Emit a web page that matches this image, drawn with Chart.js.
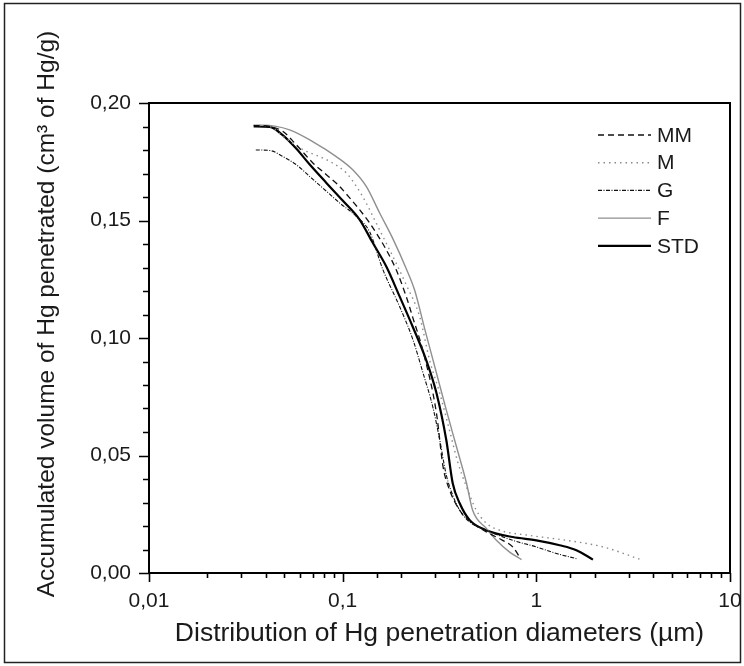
<!DOCTYPE html>
<html>
<head>
<meta charset="utf-8">
<script src="https://cdn.jsdelivr.net/npm/chart.js@4.4.0/dist/chart.umd.min.js"></script>
<style>
  html, body { margin: 0; padding: 0; background: #fff; }
</style>
</head>
<body>
<canvas id="hgChart" width="744" height="666"></canvas>
<script>
// Diameters (um) and accumulated Hg volume (cm3/g)
const mmDiam = [0.0347, 0.042, 0.0492, 0.0565, 0.070, 0.0824, 0.0946, 0.1087, 0.1225, 0.1377, 0.149, 0.168, 0.189, 0.213, 0.2296, 0.259, 0.305, 0.330, 0.357, 0.402, 0.469, 0.552, 0.670, 0.755, 0.82];
const mmVol  = [0.1905, 0.190, 0.1879, 0.183, 0.1746, 0.1695, 0.1652, 0.1596, 0.1545, 0.149, 0.1447, 0.1375, 0.129, 0.1176, 0.109, 0.0949, 0.068, 0.0452, 0.0352, 0.0267, 0.0212, 0.0175, 0.0139, 0.0111, 0.0068];

const mDiam = [0.0347, 0.042, 0.0492, 0.0624, 0.076, 0.0891, 0.1045, 0.1178, 0.1324, 0.149, 0.168, 0.189, 0.213, 0.250, 0.281, 0.317, 0.356, 0.393, 0.436, 0.490, 0.552, 0.647, 0.922, 1.43, 2.21, 3.55];
const mVol  = [0.1905, 0.190, 0.1858, 0.1801, 0.1772, 0.1744, 0.1702, 0.1645, 0.1574, 0.1489, 0.1403, 0.1318, 0.1226, 0.109, 0.0906, 0.0766, 0.0608, 0.0472, 0.0366, 0.0267, 0.0212, 0.0182, 0.016, 0.0139, 0.0111, 0.0054];

const gDiam = [0.0356, 0.042, 0.0492, 0.0577, 0.0676, 0.079, 0.0967, 0.1178, 0.1377, 0.1615, 0.197, 0.231, 0.260, 0.292, 0.317, 0.343, 0.370, 0.402, 0.453, 0.552, 0.755, 1.0, 1.27, 1.61];
const gVol  = [0.180, 0.1798, 0.1772, 0.1737, 0.1687, 0.1638, 0.1574, 0.1517, 0.1452, 0.129, 0.1133, 0.0991, 0.0851, 0.0707, 0.0567, 0.0416, 0.0331, 0.0267, 0.0217, 0.0182, 0.0139, 0.0111, 0.0083, 0.0061];

const fDiam = [0.0355, 0.0387, 0.0532, 0.070, 0.0927, 0.1127, 0.1324, 0.155, 0.181, 0.213, 0.235, 0.265, 0.305, 0.343, 0.387, 0.436, 0.469, 0.552, 0.622, 0.728, 0.838];
const fVol  = [0.1905, 0.1906, 0.1886, 0.1836, 0.1772, 0.1716, 0.1645, 0.1533, 0.1425, 0.1295, 0.1205, 0.104, 0.0851, 0.0693, 0.0537, 0.0382, 0.0267, 0.019, 0.0139, 0.0089, 0.0057];

const stdDiam = [0.0347, 0.042, 0.0492, 0.0577, 0.0676, 0.0824, 0.100, 0.1225, 0.143, 0.168, 0.197, 0.230, 0.270, 0.305, 0.343, 0.370, 0.402, 0.453, 0.552, 0.755, 1.0, 1.32, 1.61, 1.96];
const stdVol  = [0.190, 0.1898, 0.1862, 0.1805, 0.1738, 0.1660, 0.1585, 0.1503, 0.1405, 0.1304, 0.1176, 0.1048, 0.0906, 0.0766, 0.0565, 0.0382, 0.0297, 0.0225, 0.0182, 0.0153, 0.0139, 0.0118, 0.0097, 0.0057];

const seriesLabels = ["MM", "M", "G", "F", "STD"];
const xTitle = "Distribution of Hg penetration diameters (\u00b5m)";
const yTitle = "Accumulated volume of Hg penetrated (cm\u00b3 of Hg/g)";

const FONT = "'Liberation Sans', Arial, sans-serif";
const TEXT = "#1a1a1a";

function toPoints(xs, ys) {
    return xs.map((x, i) => ({ x: x, y: ys[i] }));
}

function isDecade(v) {
    const l = Math.log10(v);
    return Math.abs(l - Math.round(l)) < 1e-6;
}

// marco, marcas de los ejes, titulo vertical y leyenda
const framePlugin = {
    id: "frameTicks",
    beforeDraw(chart) {
        const ctx = chart.ctx;
        ctx.save();
        ctx.fillStyle = "#fff";
        ctx.fillRect(0, 0, chart.width, chart.height);
        ctx.strokeStyle = "#222";
        ctx.lineWidth = 1.5;
        ctx.strokeRect(4.5, 3.5, chart.width - 8, chart.height - 7);
        ctx.restore();
    },
    afterDraw(chart) {
        const { ctx, chartArea: a, scales: { x, y } } = chart;
        ctx.save();
        ctx.strokeStyle = "#000";
        ctx.lineWidth = 2;
        ctx.strokeRect(a.left, a.top, a.right - a.left, a.bottom - a.top);

        ctx.lineWidth = 1.6;
        ctx.beginPath();
        x.ticks.forEach(t => {
            const px = Math.round(x.getPixelForValue(t.value)) + 0.5;
            const len = isDecade(t.value) ? 9 : 5;
            ctx.moveTo(px, a.bottom);
            ctx.lineTo(px, a.bottom + len);
        });
        y.ticks.forEach(t => {
            const py = Math.round(y.getPixelForValue(t.value)) + 0.5;
            const major = Math.round(t.value * 100) % 5 === 0;
            const len = major ? 10 : 6;
            ctx.moveTo(a.left, py);
            ctx.lineTo(a.left - len, py);
        });
        ctx.stroke();

        // titulo del eje Y
        ctx.save();
        ctx.translate(47, 314);
        ctx.rotate(-Math.PI / 2);
        ctx.font = "24.5px " + FONT;
        ctx.fillStyle = TEXT;
        ctx.textAlign = "center";
        ctx.textBaseline = "middle";
        ctx.fillText(yTitle, 0, 0);
        ctx.restore();

        // leyenda
        ctx.font = "21px " + FONT;
        ctx.textBaseline = "middle";
        ctx.textAlign = "left";
        chart.data.datasets.forEach((ds, i) => {
            const ly = 135 + i * 27.7;
            ctx.save();
            ctx.strokeStyle = ds.borderColor;
            ctx.lineWidth = ds.borderWidth;
            ctx.setLineDash(ds.borderDash || []);
            ctx.beginPath();
            ctx.moveTo(598, ly);
            ctx.lineTo(651, ly);
            ctx.stroke();
            ctx.restore();
            ctx.fillStyle = TEXT;
            ctx.fillText(ds.label, 657, ly + 1);
        });
        ctx.restore();
    }
};

const datasets = [
    { label: seriesLabels[0], data: toPoints(mmDiam, mmVol), borderColor: "#111", borderWidth: 1.3, borderDash: [6, 4] },
    { label: seriesLabels[1], data: toPoints(mDiam, mVol), borderColor: "#8a8a8a", borderWidth: 1.4, borderDash: [1.5, 4] },
    { label: seriesLabels[2], data: toPoints(gDiam, gVol), borderColor: "#111", borderWidth: 1.1, borderDash: [4, 1.5, 1, 1.5] },
    { label: seriesLabels[3], data: toPoints(fDiam, fVol), borderColor: "#8f8f8f", borderWidth: 1.4, borderDash: [] },
    { label: seriesLabels[4], data: toPoints(stdDiam, stdVol), borderColor: "#000", borderWidth: 2.2, borderDash: [] }
];
datasets.forEach(ds => {
    ds.showLine = true;
    ds.pointRadius = 0;
    ds.fill = false;
    ds.cubicInterpolationMode = "monotone";
});

new Chart(document.getElementById("hgChart"), {
    type: "scatter",
    data: { datasets: datasets },
    options: {
        responsive: false,
        animation: false,
        devicePixelRatio: 1,
        layout: { padding: { left: 0, top: 103, right: 14, bottom: 0 } },
        plugins: {
            legend: { display: false },
            tooltip: { enabled: false }
        },
        scales: {
            x: {
                type: "logarithmic",
                min: 0.01,
                max: 10,
                grid: { display: false },
                border: { display: false },
                ticks: {
                    autoSkip: false,
                    maxRotation: 0,
                    padding: 8,
                    color: TEXT,
                    font: { family: FONT, size: 21 },
                    callback: v => isDecade(v) ? String(v).replace(".", ",") : ""
                },
                title: {
                    display: true,
                    text: xTitle,
                    color: TEXT,
                    font: { family: FONT, size: 26.5 },
                    padding: { top: 0, bottom: 16 }
                },
                afterFit: scale => {
                    scale.height = 93;
                    scale.paddingLeft = 0;
                    scale.paddingRight = 0;
                }
            },
            y: {
                min: 0,
                max: 0.2,
                grid: { display: false },
                border: { display: false },
                ticks: {
                    stepSize: 0.01,
                    autoSkip: false,
                    padding: 10,
                    color: TEXT,
                    font: { family: FONT, size: 21 },
                    callback: v => {
                        const n = Math.round(v * 100);
                        return n % 5 === 0 ? (n / 100).toFixed(2).replace(".", ",") : "";
                    }
                },
                afterFit: scale => {
                    scale.width = 149;
                    scale.paddingTop = 0;
                    scale.paddingBottom = 0;
                }
            }
        }
    },
    plugins: [framePlugin]
});
</script>
</body>
</html>
